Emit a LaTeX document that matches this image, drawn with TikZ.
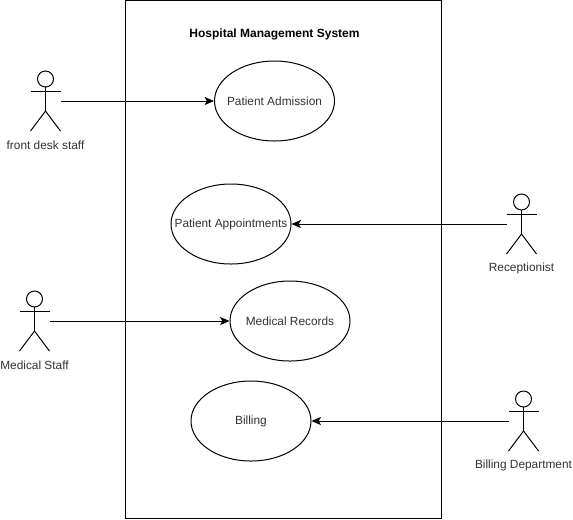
\documentclass[tikz,border=0pt]{standalone}
\usepackage{fontspec}
\setmainfont{Liberation Sans}
\usetikzlibrary{arrows.meta,shapes.geometric,calc}
\definecolor{txt}{HTML}{333333}
\tikzset{
  usecase/.style={draw=black,fill=white,ellipse,line width=.75pt,minimum width=90pt,minimum height=60pt,inner sep=0pt,text=txt,font=\fontsize{8.9}{11}\selectfont},
  actorbox/.style={minimum width=22.5pt,minimum height=45pt,inner sep=0pt,outer sep=0pt},
  actorline/.style={draw=black,line width=.75pt},
  actorlabel/.style={text=txt,inner sep=0pt,font=\fontsize{8.9}{11}\selectfont},
  link/.style={draw=black,line width=.75pt,-{Stealth[length=7pt,width=6pt,inset=1.5pt]},shorten >=0pt},
  sysbox/.style={draw=black,line width=.75pt,minimum width=237pt,minimum height=388.5pt,inner sep=0pt,outer sep=0pt},
  title/.style={inner sep=0pt,text=black,font=\fontsize{9}{11}\selectfont\bfseries}
}
\newcommand{\drawactor}[4]{%
  \node[actorbox] (#1) at (#2,#3) {};
  \coordinate (#1h) at ($(#1.north)+(0,-6pt)$);
  \draw[actorline] (#1h) circle (6pt);
  \draw[actorline] ($(#1.north)+(0,-12pt)$) -- ($(#1.north)+(0,-30pt)$);
  \draw[actorline] ($(#1.west)+(0,7.5pt)$) -- ($(#1.east)+(0,7.5pt)$);
  \draw[actorline] (#1.south west) -- ($(#1.north)+(0,-30pt)$) -- (#1.south east);
  \node[actorlabel,anchor=center] (#1l) at (#2,#3+44.3) {#4};
}
\newcommand{\uctext}[1]{\makebox[0pt]{#1}}
\begin{document}
\begin{tikzpicture}[x=.75pt,y=-.75pt]
\useasboundingbox (0,0) rectangle (573,519);
\fill[white] (0,0) rectangle (573,519);
\node[sysbox] (sys) at (283.5,259) {};
\node[title] (t) at (274.5,34.3) {Hospital Management System};
\node[usecase] (pa) at (274.5,101) {\uctext{Patient Admission}};
\node[usecase] (pp) at (231,224) {\uctext{Patient Appointments}};
\node[usecase] (mr) at (290,321) {\uctext{Medical Records}};
\node[usecase] (bi) at (251,421) {\uctext{Billing}};
\drawactor{fd}{45.5}{101}{front desk staff}
\drawactor{re}{521.5}{224}{Receptionist}
\drawactor{ms}{34.5}{321}{Medical Staff}
\drawactor{bd}{523.5}{421}{Billing Department}
\draw[link] (fd.east) -- (pa.west);
\draw[link] (re.west) -- (pp.east);
\draw[link] (ms.east) -- (mr.west);
\draw[link] (bd.west) -- (bi.east);
\end{tikzpicture}
\end{document}
